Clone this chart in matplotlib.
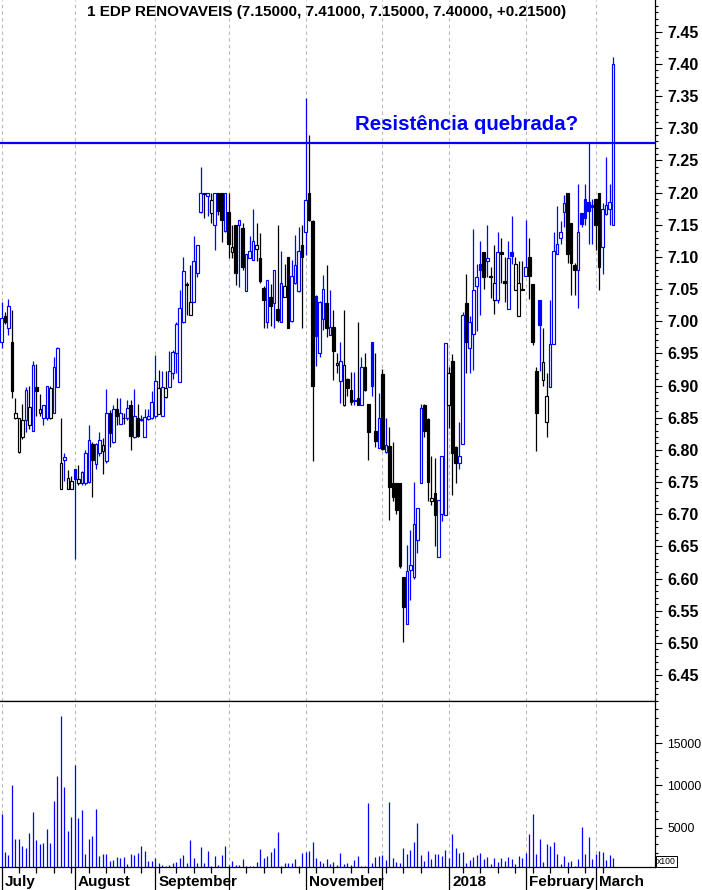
import numpy as np
import pandas as pd
import matplotlib
matplotlib.use("Agg")
import matplotlib.pyplot as plt
from matplotlib.ticker import MultipleLocator, FixedLocator, FormatStrFormatter

plt.rcParams['font.family'] = ['Liberation Sans', 'DejaVu Sans']

# trading days (Euronext closed 25/26 Dec and 1 Jan)
days = pd.bdate_range("2017-07-03", "2018-03-08")
days = days[~days.isin(pd.to_datetime(["2017-12-25", "2017-12-26", "2018-01-01"]))]

opens = [6.968, 7.008, 6.989, 6.967, 6.850, 6.797, 6.820, 6.846, 6.839, 6.830,
         6.898, 6.858, 6.849, 6.849, 6.849, 6.858, 6.898, 6.739, 6.785, 6.739,
         6.739, 6.770, 6.748, 6.748, 6.748, 6.750, 6.809, 6.778, 6.795, 6.798,
         6.782, 6.857, 6.812, 6.863, 6.840, 6.850, 6.849, 6.870, 6.820, 6.849,
         6.846, 6.820, 6.848, 6.849, 6.852, 6.856, 6.853, 6.882, 6.898, 6.919,
         6.950, 6.905, 6.998, 7.056, 7.009, 7.030, 7.075, 7.169, 7.199, 7.194,
         7.168, 7.149, 7.199, 7.199, 7.140, 7.170, 7.107, 7.150, 7.149, 7.145,
         7.047, 7.099, 7.095, 7.113, 7.099, 7.051, 6.999, 7.038, 7.029, 7.019,
         6.998, 7.038, 7.100, 7.000, 7.060, 7.047, 7.118, 7.138, 7.200, 7.155,
         7.039, 6.950, 7.003, 7.028, 6.979, 6.991, 6.932, 6.907, 6.870, 6.910,
         6.893, 6.876, 6.881, 6.870, 6.929, 6.872, 6.968, 6.830, 6.803, 6.918,
         6.796, 6.806, 6.748, 6.748, 6.748, 6.603, 6.530, 6.613, 6.603, 6.660,
         6.748, 6.870, 6.848, 6.720, 6.733, 6.633, 6.700, 6.699, 6.870, 6.938,
         6.805, 6.779, 6.809, 7.028, 6.959, 6.980, 7.054, 7.089, 7.107, 7.094,
         7.070, 7.033, 7.033, 7.108, 7.063, 7.019, 7.108, 7.048, 7.008, 7.050,
         7.070, 7.100, 7.058, 6.923, 7.033, 6.908, 6.843, 6.898, 6.965, 7.104,
         7.130, 7.169, 7.199, 7.153, 7.088, 7.080, 7.168, 7.190, 7.186, 7.180,
         7.190, 7.199, 7.116, 7.166, 7.174, 7.150]
highs = [7.030, 7.015, 7.034, 7.017, 6.880, 6.850, 6.872, 6.897, 6.899, 6.938,
         6.933, 6.887, 6.870, 6.900, 6.899, 6.944, 6.960, 6.849, 6.795, 6.769,
         6.760, 6.771, 6.776, 6.767, 6.800, 6.839, 6.812, 6.810, 6.827, 6.818,
         6.895, 6.862, 6.869, 6.880, 6.880, 6.857, 6.878, 6.877, 6.895, 6.871,
         6.854, 6.864, 6.864, 6.892, 6.948, 6.924, 6.923, 6.923, 6.954, 6.955,
         6.998, 7.049, 7.100, 7.061, 7.088, 7.133, 7.118, 7.240, 7.200, 7.200,
         7.199, 7.200, 7.200, 7.200, 7.200, 7.199, 7.150, 7.150, 7.158, 7.153,
         7.105, 7.132, 7.174, 7.152, 7.137, 7.055, 7.064, 7.058, 7.080, 7.150,
         7.109, 7.089, 7.100, 7.095, 7.134, 7.147, 7.150, 7.347, 7.290, 7.157,
         7.040, 7.031, 7.072, 7.087, 7.048, 7.017, 6.950, 6.968, 7.017, 6.911,
         6.921, 6.921, 6.999, 6.945, 6.950, 6.872, 6.968, 6.950, 6.888, 6.925,
         6.849, 6.835, 6.812, 6.748, 6.748, 6.603, 6.652, 6.675, 6.750, 6.709,
         6.871, 6.872, 6.850, 6.790, 6.787, 6.722, 6.790, 6.966, 6.929, 6.949,
         6.806, 6.844, 7.015, 7.073, 7.008, 7.144, 7.089, 7.124, 7.107, 7.149,
         7.084, 7.118, 7.138, 7.129, 7.100, 7.124, 7.163, 7.100, 7.094, 7.094,
         7.158, 7.129, 7.058, 6.929, 7.033, 6.989, 6.919, 7.033, 7.139, 7.179,
         7.155, 7.196, 7.199, 7.153, 7.090, 7.214, 7.168, 7.214, 7.277, 7.190,
         7.190, 7.199, 7.183, 7.256, 7.214, 7.410]
lows = [6.958, 6.995, 6.979, 6.880, 6.848, 6.795, 6.817, 6.828, 6.833, 6.829,
        6.852, 6.852, 6.838, 6.847, 6.848, 6.857, 6.897, 6.739, 6.751, 6.739,
        6.739, 6.631, 6.745, 6.745, 6.745, 6.748, 6.727, 6.770, 6.790, 6.762,
        6.780, 6.805, 6.810, 6.839, 6.840, 6.840, 6.847, 6.800, 6.818, 6.820,
        6.845, 6.820, 6.846, 6.848, 6.850, 6.855, 6.853, 6.880, 6.897, 6.910,
        6.919, 6.905, 6.997, 7.010, 7.009, 7.030, 7.069, 7.168, 7.160, 7.163,
        7.152, 7.110, 7.165, 7.123, 7.138, 7.098, 7.098, 7.056, 7.053, 7.079,
        7.047, 7.098, 7.095, 7.093, 7.060, 6.990, 6.990, 6.992, 6.989, 6.999,
        6.998, 7.038, 6.990, 6.999, 7.058, 7.045, 6.990, 7.103, 7.155, 6.782,
        6.930, 6.945, 6.987, 6.976, 6.978, 6.909, 6.920, 6.873, 6.868, 6.883,
        6.870, 6.870, 6.869, 6.869, 6.892, 6.784, 6.883, 6.805, 6.803, 6.800,
        6.795, 6.691, 6.720, 6.700, 6.616, 6.502, 6.530, 6.567, 6.600, 6.640,
        6.748, 6.820, 6.720, 6.715, 6.650, 6.633, 6.689, 6.699, 6.834, 6.730,
        6.749, 6.771, 6.809, 6.919, 6.919, 6.924, 6.984, 7.010, 7.050, 7.069,
        7.036, 7.011, 7.029, 7.059, 7.030, 7.019, 7.089, 7.048, 7.008, 7.048,
        7.070, 7.034, 6.963, 6.799, 6.922, 6.900, 6.820, 6.898, 6.965, 7.104,
        7.120, 7.146, 7.090, 7.040, 7.040, 7.020, 7.146, 7.150, 7.120, 7.120,
        7.110, 7.049, 7.074, 7.165, 7.150, 7.150]
closes = [7.005, 6.999, 7.024, 6.892, 6.858, 6.849, 6.846, 6.893, 6.867, 6.932,
          6.892, 6.863, 6.869, 6.899, 6.896, 6.929, 6.959, 6.779, 6.789, 6.757,
          6.752, 6.755, 6.754, 6.765, 6.795, 6.815, 6.784, 6.809, 6.816, 6.807,
          6.858, 6.826, 6.863, 6.853, 6.858, 6.849, 6.865, 6.822, 6.852, 6.822,
          6.848, 6.851, 6.853, 6.874, 6.907, 6.896, 6.898, 6.896, 6.923, 6.952,
          6.996, 7.021, 7.078, 7.058, 7.030, 7.093, 7.118, 7.199, 7.197, 7.199,
          7.188, 7.199, 7.172, 7.157, 7.199, 7.120, 7.116, 7.075, 7.157, 7.085,
          7.104, 7.109, 7.125, 7.118, 7.062, 7.033, 7.064, 7.023, 7.080, 7.002,
          7.059, 7.055, 6.990, 7.070, 7.088, 7.109, 7.100, 7.188, 7.157, 6.900,
          6.977, 7.030, 7.050, 6.989, 6.991, 6.953, 6.935, 6.938, 6.932, 6.896,
          6.875, 6.878, 6.870, 6.929, 6.893, 6.828, 6.900, 6.813, 6.849, 6.801,
          6.808, 6.742, 6.727, 6.707, 6.620, 6.555, 6.612, 6.621, 6.685, 6.709,
          6.865, 6.830, 6.750, 6.725, 6.699, 6.722, 6.790, 6.966, 6.919, 6.795,
          6.779, 6.790, 7.010, 6.968, 6.998, 7.048, 7.069, 7.079, 7.069, 7.099,
          7.069, 7.059, 7.108, 7.104, 7.060, 7.099, 7.101, 7.089, 7.059, 7.049,
          7.084, 7.070, 6.968, 6.858, 6.994, 6.937, 6.883, 6.965, 7.109, 7.120,
          7.138, 7.183, 7.105, 7.090, 7.080, 7.138, 7.151, 7.160, 7.172, 7.178,
          7.150, 7.085, 7.175, 7.180, 7.185, 7.400]
volume = [6624, 2121, 1766, 10054, 3662, 3662, 2832, 2595, 4372, 6861,
          3543, 3069, 3188, 4846, 3188, 8165, 11127, 18237, 9817, 4609,
          6269, 12431, 6150, 7098, 1885, 3662, 4017, 7216, 1648, 1885,
          1885, 1055, 1174, 1529, 1411, 1529, 620, 1885, 1766, 2003,
          2832, 2240, 1055, 1055, 1411, 818, 581, 462, 581, 818,
          936, 1411, 1766, 818, 3543, 1411, 818, 2714, 818, 2240,
          462, 1648, 581, 1766, 2832, 581, 1055, 581, 581, 1292,
          462, 462, 462, 936, 2477, 1411, 1648, 2121, 2595, 4491,
          462, 818, 818, 818, 1292, 400, 2003, 2121, 2240, 3306,
          1411, 1055, 818, 1292, 700, 936, 600, 2003, 700, 818,
          581, 1174, 1648, 462, 400, 7928, 818, 1529, 1648, 1766,
          1174, 8046, 1411, 936, 818, 2595, 1885, 2358, 3306, 5558,
          1766, 1055, 2240, 1292, 1885, 1885, 1648, 2358, 1411, 4254,
          2595, 2003, 2121, 818, 1174, 1529, 1766, 2003, 1292, 1529,
          700, 1411, 936, 1411, 1055, 1529, 1292, 700, 1648, 1411,
          2003, 4254, 6624, 1885, 3662, 936, 3069, 2832, 3306, 1885,
          700, 1648, 936, 1055, 462, 1292, 5084, 1885, 3899, 1292,
          1885, 2240, 2121, 1174, 1766, 1411]

month_names = ["July", "August", "September", "", "November", "", "2018", "February", "March"]
title = "1 EDP RENOVAVEIS (7.15000, 7.41000, 7.15000, 7.40000, +0.21500)"
resistance = 7.277

BLUE = "#0000ff"
o = np.array(opens); h = np.array(highs); l = np.array(lows); c = np.array(closes)
x = np.arange(len(days))
prev = np.concatenate([[c[0] - 0.01], c[:-1]])
col = np.where(c >= prev, BLUE, "black")
face = np.where(c < o, col, "white")

month_start = [i for i in range(len(days)) if i == 0 or days[i].month != days[i - 1].month]
mondays = [i for i in range(len(days)) if days[i].weekday() == 0]

fig = plt.figure(figsize=(7.02, 8.90), dpi=100)
ax = fig.add_axes([0, 1 - 701 / 890, 655 / 702, 701 / 890])
axv = fig.add_axes([0, 1 - 866.7 / 890, 655 / 702, (866.7 - 701) / 890])

for a in (ax, axv):
    for m in month_start:
        a.axvline(m, color="#b8b8b8", ls=(0, (3, 3)), lw=0.8, zorder=0)
    a.set_xlim(-0.43, 187.0)
    a.spines["left"].set_visible(False)
    for s in ("top", "right", "bottom"):
        a.spines[s].set_linewidth(0.9)
        a.spines[s].set_color("black")
    a.yaxis.tick_right()
ax.spines["top"].set_visible(False)

# candles
ax.vlines(x, l, h, colors=col, lw=0.9, zorder=2)
ax.bar(x, np.maximum(np.abs(c - o), 0.0012), bottom=np.minimum(o, c), width=0.76,
       color=face, edgecolor=col, linewidth=0.85, zorder=3)
ax.axhline(resistance, color=BLUE, lw=1.6, zorder=4)
ax.text(101.2, 7.305, "Resistência quebrada?", color=BLUE, fontsize=14.7,
        fontweight="bold", ha="left", va="center")

ax.set_ylim(6.4096, 7.4993)
ax.yaxis.set_major_locator(MultipleLocator(0.05))
ax.yaxis.set_minor_locator(MultipleLocator(0.01))
ax.yaxis.set_major_formatter(FormatStrFormatter("%.2f"))
ax.tick_params(axis="y", which="major", length=5, width=0.8, pad=4, labelsize=11.5)
ax.tick_params(axis="y", which="minor", length=2.5, width=0.8)
for t in ax.get_yticklabels():
    t.set_fontweight("bold")
ax.tick_params(axis="x", which="both", bottom=False, labelbottom=False)

# volume
axv.vlines(x, 0, volume, colors=BLUE, lw=0.9)
axv.set_ylim(356, 19990)
axv.yaxis.set_major_locator(FixedLocator([5000, 10000, 15000]))
axv.yaxis.set_minor_locator(MultipleLocator(1000))
axv.yaxis.set_major_formatter(FormatStrFormatter("%d"))
axv.tick_params(axis="y", which="major", length=5, width=0.8, pad=4, labelsize=8.7)
axv.tick_params(axis="y", which="minor", length=2.5, width=0.8)

axv.xaxis.set_major_locator(FixedLocator(month_start))
axv.xaxis.set_minor_locator(FixedLocator(mondays))
axv.tick_params(axis="x", which="major", length=18, width=0.9, labelbottom=False)
axv.tick_params(axis="x", which="minor", length=4, width=0.9)
for m, name in zip(month_start, month_names):
    axv.annotate(name, xy=(m, 0), xycoords=("data", "axes fraction"),
                 xytext=(2.3, -11), textcoords="offset points",
                 ha="left", va="center", fontsize=11, fontweight="bold")

fig.text(657 / 702, 1 - 861.5 / 890, "x100", fontsize=6.2, ha="left", va="center",
         bbox=dict(boxstyle="square,pad=0.15", fc="white", ec="black", lw=0.7))
fig.text(327 / 702, 1 - 12 / 890, title, ha="center", va="center",
         fontsize=11, fontweight="bold")

fig.savefig("out.png", dpi=100)
print("done")
